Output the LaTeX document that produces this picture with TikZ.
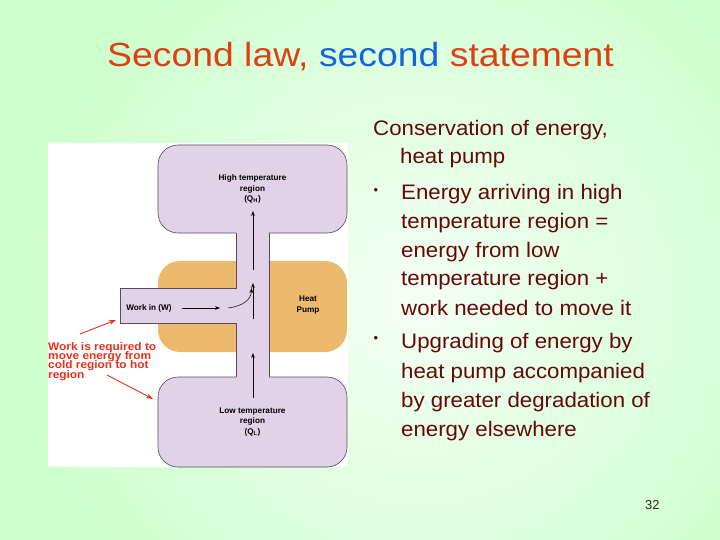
\documentclass[tikz,border=0pt]{standalone}
\usepackage{fontspec}
\setmainfont{Liberation Sans}
\newfontfamily\titlefont[FakeStretch=1.115]{Liberation Sans}
\newfontfamily\bodyfont[FakeStretch=1.06]{Liberation Sans}
\newfontfamily\notefont[FakeStretch=1.08]{Liberation Sans}
\usetikzlibrary{arrows.meta}
\lineskiplimit=-20pt\relax
\definecolor{bggreen}{RGB}{204,255,204}
\definecolor{bglight}{RGB}{244,255,244}
\definecolor{lav}{RGB}{225,210,232}
\definecolor{pumporange}{RGB}{236,186,108}
\definecolor{titlered}{RGB}{220,65,20}
\definecolor{titleblue}{RGB}{20,100,220}
\definecolor{bodytext}{RGB}{100,8,8}
\definecolor{notered}{RGB}{232,48,28}
\definecolor{edgecol}{RGB}{85,75,95}
\definecolor{pagenum}{RGB}{50,40,10}
\begin{document}
\begin{tikzpicture}[x=1pt,y=-1pt,
  blob/.style={draw=edgecol,line width=0.6pt,fill=lav,rounded corners=20pt,
    align=center,inner sep=0pt,font=\bfseries\fontsize{8.2}{10.5}\selectfont},
  pumpbox/.style={fill=pumporange,rounded corners=22pt,inner sep=0pt},
  edgeline/.style={draw=edgecol,line width=0.6pt},
  lbl/.style={font=\bfseries\fontsize{8.2}{10.5}\selectfont,align=center,inner sep=0pt},
  flow/.style={-{Stealth[length=5pt,width=3.6pt]},line width=0.5pt,black},
  redarrow/.style={-{Stealth[length=7pt,width=5pt]},line width=0.9pt,notered},
  note/.style={anchor=base west,inner sep=0pt,text=notered,align=left,
    font=\notefont\bfseries\fontsize{11}{9.4}\selectfont},
  body/.style={anchor=base west,inner sep=0pt,text=bodytext,
    font=\bodyfont\fontsize{21}{25}\selectfont},
  bul/.style={inner sep=0pt,text=bodytext,font=\fontsize{13}{13}\selectfont}]
\useasboundingbox (0,0) rectangle (720,540);
% background
\fill[bggreen] (0,0) rectangle (720,540);
\begin{scope}
\clip (0,0) rectangle (720,540);
\shade[inner color=bglight,outer color=bggreen] (420,300) circle[radius=420pt];
\end{scope}
% title
\node[anchor=base west,inner sep=0pt,font=\titlefont\fontsize{33.5}{40}\selectfont] (title) at (107,67)
  {\textcolor{titlered}{Second law,}~\textcolor{titleblue}{second}~\textcolor{titlered}{statement}};
% picture panel
\fill[white] (48,143) rectangle (348,467);
% heat pump box
\node[pumpbox,minimum width=189pt,minimum height=91pt] (pump) at (252.5,306.5) {};
% hot and cold regions
\node[blob,minimum width=189pt,minimum height=88pt] (hot) at (252.5,189)
  {High temperature\\region\\(Q\textsubscript{H})};
\node[blob,minimum width=189pt,minimum height=90pt] (cold) at (252.5,422)
  {Low temperature\\region\\(Q\textsubscript{L})};
% channels
\fill[lav] (236,232.2) rectangle (269,377.8);
\fill[lav] (120,288) rectangle (236.5,323);
\draw[edgeline] (236,233) -- (236,288) -- (120,288) -- (120,323) -- (236,323) -- (236,377);
\draw[edgeline] (269,233) -- (269,377);
% labels
\node[lbl] (win) at (149,308) {Work in (W)};
\node[lbl] (hp) at (308,305) {Heat\\Pump};
% flow arrows
\coordinate (a1s) at (253,398); \coordinate (a1e) at (253,353);
\coordinate (a2s) at (253,319); \coordinate (a2e) at (253,283);
\coordinate (a3s) at (253,270); \coordinate (a3e) at (253,211);
\coordinate (w1s) at (182,308); \coordinate (w1e) at (220,308);
\coordinate (w2s) at (228,308); \coordinate (w2e) at (251.5,288);
\draw[flow] (a1s) -- (a1e);
\draw[flow] (a2s) -- (a2e);
\draw[flow] (a3s) -- (a3e);
\draw[flow] (w1s) -- (w1e);
\draw[flow] (w2s) .. controls (243,306) and (251,300) .. (w2e);
% red note
\node[note] (note) at (48,378.2) {Work is required to\\move energy from\\cold region to hot\\region};
\coordinate (r1s) at (80,334); \coordinate (r1e) at (116,320);
\coordinate (r2s) at (107,375); \coordinate (r2e) at (153,399);
\draw[redarrow] (r1s) -- (r1e);
\draw[redarrow] (r2s) -- (r2e);
% body text
\node[body] (t1) at (373,136) {Conservation of energy,};
\node[body] (t2) at (400,164) {heat pump};
\node[bul] (b1) at (376,191) {•};
\node[body] (t3) at (401,200) {Energy arriving in high};
\node[body] (t4) at (401,229) {temperature region =};
\node[body] (t5) at (401,257) {energy from low};
\node[body] (t6) at (401,285) {temperature region +};
\node[body] (t7) at (401,315) {work needed to move it};
\node[bul] (b2) at (376,339) {•};
\node[body] (t8) at (401,348) {Upgrading of energy by};
\node[body] (t9) at (401,378) {heat pump accompanied};
\node[body] (t10) at (401,407) {by greater degradation of};
\node[body] (t11) at (401,436) {energy elsewhere};
% page number
\node[anchor=base west,inner sep=0pt,text=pagenum,font=\fontsize{13}{13}\selectfont] (pg) at (645,509) {32};
\end{tikzpicture}
\end{document}
